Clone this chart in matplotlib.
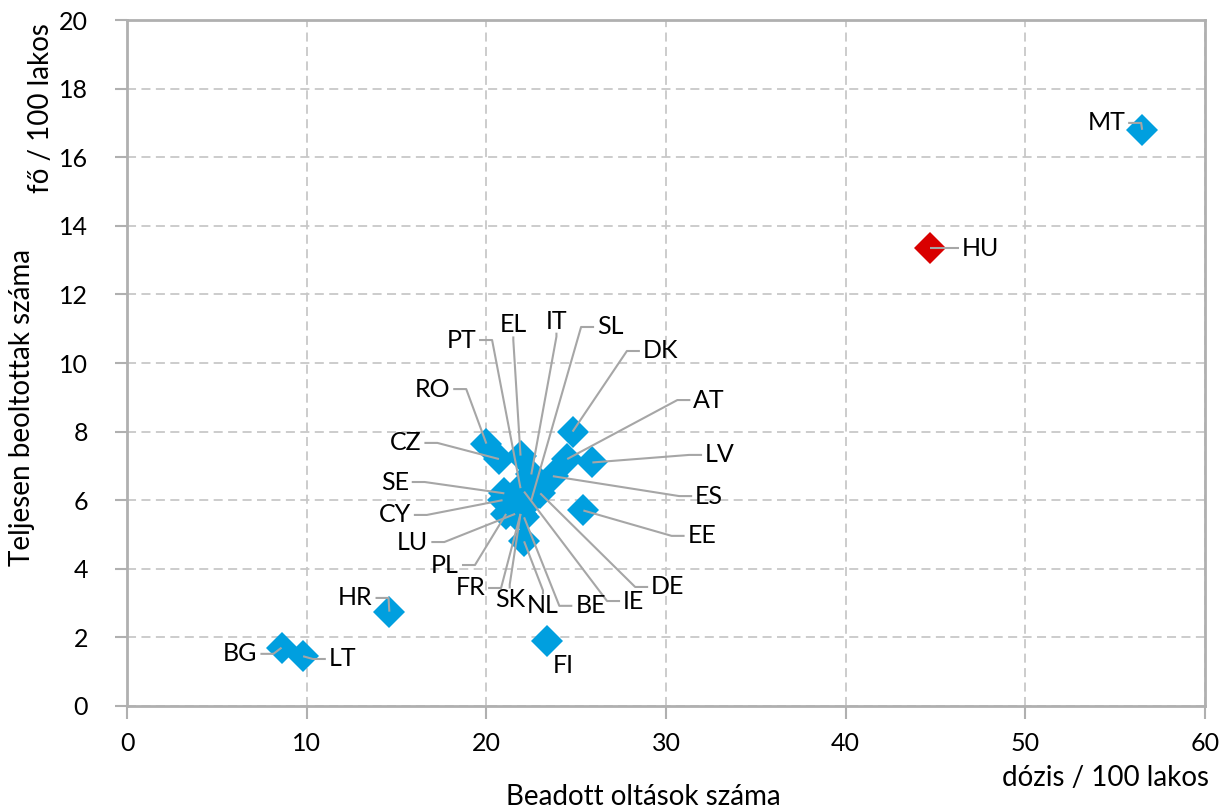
#!/usr/bin/python3
#
# Scatter plot of vaccination doses vs fully vaccinated people
# per 100 inhabitants, EU member states (HU highlighted)

##################################################
#
# requirements
#
##################################################

import matplotlib
matplotlib.use("Agg")
import matplotlib.pyplot as plt

##################################################
#
# data
#
##################################################

countries = ["MT", "HU", "BG", "LT", "HR", "FI", "RO", "CZ", "SE", "CY",
             "LU", "PL", "FR", "SK", "NL", "BE", "IE", "DE", "EE", "ES",
             "LV", "AT", "DK", "SL", "IT", "EL", "PT"]

# doses / 100 inhabitants
doses = [56.5, 44.7, 8.6, 9.8, 14.6, 23.4, 20.0, 20.7, 21.0, 20.9,
         21.6, 21.1, 21.9, 21.9, 22.1, 22.1, 22.1, 23.0, 25.4, 23.7,
         25.9, 24.5, 24.8, 22.5, 22.5, 21.9, 21.9]

# fully vaccinated / 100 inhabitants
fully = [16.8, 13.35, 1.7, 1.45, 2.75, 1.9, 7.65, 7.2, 6.2, 6.0,
         5.6, 5.6, 5.6, 5.6, 4.8, 5.5, 6.25, 6.2, 5.7, 6.7,
         7.1, 7.2, 8.0, 6.0, 6.75, 7.3, 6.35]

highlight = "HU"

# label placement (data coords of label centre, side where the leader leaves the text)
label_pos = {
    "MT": (54.5, 17.0, "r"), "HU": (47.5, 13.35, "l"), "BG": (6.3, 1.52, "r"),
    "LT": (12.0, 1.37, "l"), "HR": (12.7, 3.15, "r"), "FI": (24.3, 1.17, None),
    "RO": (17.0, 9.24, "r"), "CZ": (15.5, 7.67, "r"), "SE": (14.9, 6.53, "r"),
    "CY": (14.9, 5.57, "r"), "LU": (15.9, 4.78, "r"), "PL": (17.7, 4.11, "r"),
    "FR": (19.1, 3.44, "r"), "SK": (21.3, 3.09, "t"), "NL": (23.15, 2.92, "t"),
    "BE": (25.8, 2.92, "l"), "IE": (28.2, 3.06, "l"), "DE": (30.1, 3.47, "l"),
    "EE": (32.0, 4.96, "l"), "ES": (32.4, 6.12, "l"), "LV": (33.0, 7.32, "l"),
    "AT": (32.4, 8.92, "l"), "DK": (29.7, 10.35, "l"), "SL": (26.9, 11.05, "l"),
    "IT": (23.9, 11.22, "b"), "EL": (21.5, 11.11, "b"), "PT": (18.6, 10.67, "r"),
}

##################################################
#
# plot
#
##################################################

def plot_scatter(outfile):

    blue = "#009fdf"
    red = "#d90000"
    grey = "#a6a6a6"
    lab_font = "Lato"

    fig = plt.figure(figsize=(12.31, 8.11), dpi=100)
    ax = fig.add_axes([0.1032, 0.1295, 0.8757, 0.8458])

    ax.set_xlim(0, 60)
    ax.set_ylim(0, 20)
    ax.set_xticks(range(0, 61, 10))
    ax.set_yticks(range(0, 21, 2))

    # dashed grid
    ax.grid(True, color="#c8c8c8", linestyle=(0, (5, 3)), linewidth=1.3)
    ax.set_axisbelow(True)

    for s in ax.spines.values():
        s.set_color("#b0b0b0")
        s.set_linewidth(2)

    ax.tick_params(axis="both", color="#b0b0b0", length=9, width=1.5, direction="out")
    ax.tick_params(axis="x", pad=10)
    ax.tick_params(axis="y", pad=19)
    for t in ax.get_xticklabels() + ax.get_yticklabels():
        t.set_fontfamily(lab_font)
        t.set_fontsize(18)

    # markers
    colors = [red if c == highlight else blue for c in countries]
    for x, y, c in zip(doses, fully, colors):
        ax.plot(x, y, marker="D", markersize=16, color=c, linestyle="none",
                markeredgewidth=0, zorder=3)

    # labels
    texts = {}
    for c in countries:
        lx, ly, side = label_pos[c]
        texts[c] = ax.text(lx, ly, c, fontsize=18, family=lab_font,
                           ha="center", va="center", zorder=5)

    # leader lines, built from text extents
    fig.canvas.draw()
    renderer = fig.canvas.get_renderer()
    inv = ax.transData.inverted()
    stub = 13
    for c, x, y in zip(countries, doses, fully):
        side = label_pos[c][2]
        if side is None:
            continue
        bb = texts[c].get_window_extent(renderer)
        px, py = ax.transData.transform((x, y))
        ym = (bb.y0 + bb.y1) / 2
        xm = (bb.x0 + bb.x1) / 2
        if side == "r":
            p0 = (bb.x1 + 3, ym)
            p1 = (bb.x1 + 3 + stub, ym)
        elif side == "l":
            p0 = (bb.x0 - 3, ym)
            p1 = (bb.x0 - 3 - stub, ym)
        elif side == "t":
            p0 = (xm, bb.y1)
            p1 = (xm, bb.y1 + 4)
        else:
            p0 = (xm, bb.y0)
            p1 = (xm, bb.y0 - 4)
        d = inv.transform([p0, p1, (px, py)])
        ax.plot(d[:, 0], d[:, 1], color=grey, linewidth=1.5, zorder=4,
                solid_capstyle="butt")

    # axis titles
    fig.text(643 / 1231, 1 - 797 / 811, "Beadott oltások száma", fontsize=20,
             family=lab_font, ha="center", va="center")
    fig.text(1106 / 1231, 1 - 778 / 811, "dózis / 100 lakos", fontsize=20,
             family=lab_font, ha="center", va="center")
    fig.text(22 / 1231, 1 - 407 / 811, "Teljesen beoltottak száma", fontsize=20,
             family=lab_font, ha="center", va="center", rotation=90)
    fig.text(41 / 1231, 1 - 108 / 811, "fő / 100 lakos", fontsize=20,
             family=lab_font, ha="center", va="center", rotation=90)

    plt.savefig(outfile, dpi=100)
    plt.close()


##################################################
#
# main
#
##################################################

if __name__ == "__main__":
    plot_scatter("out.png")
